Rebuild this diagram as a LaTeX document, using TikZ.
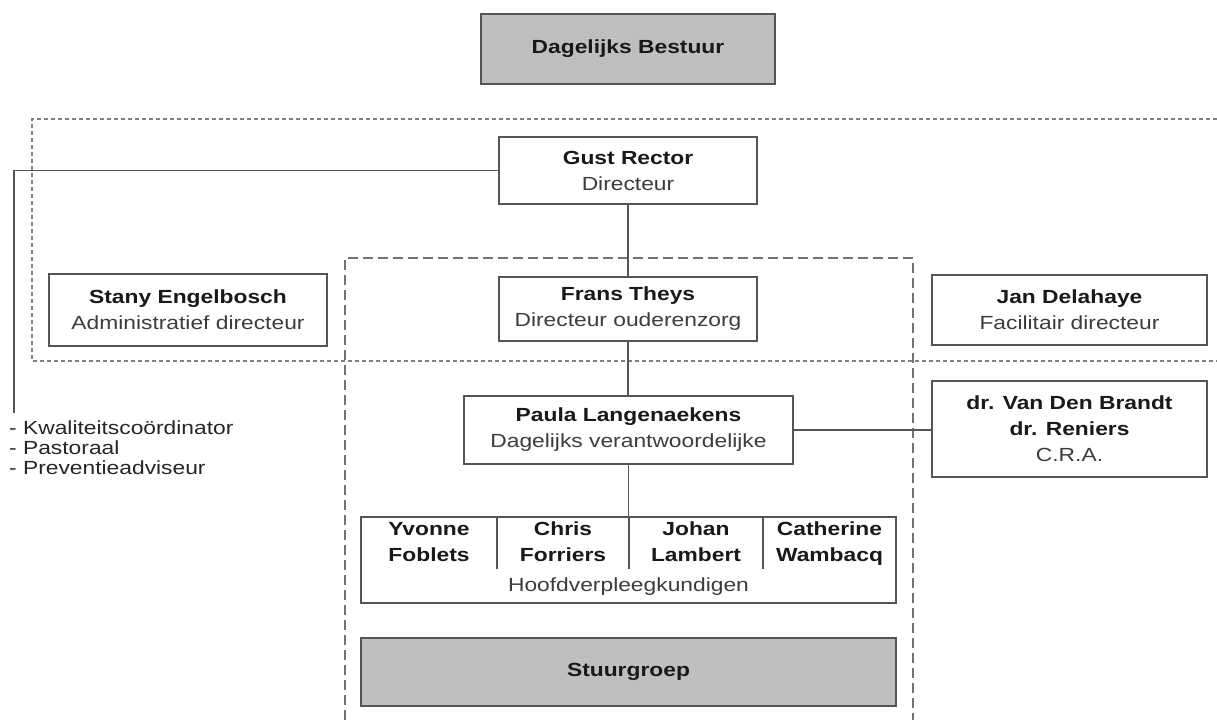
\documentclass[tikz,border=0pt]{standalone}
\usepackage{fontspec}
\setmainfont[FakeStretch=1.2]{Liberation Sans}
\definecolor{rim}{HTML}{555555}
\definecolor{role}{HTML}{3C3C3C}
\begin{document}
\begin{tikzpicture}[x=1pt,y=-1pt,
persbox/.style={draw=rim, line width=1.8pt, fill=white, inner sep=0pt, align=center, text=black!90, font=\fontsize{19}{26}\selectfont},
greybox/.style={persbox, fill=black!25},
namebox/.style={persbox, draw=none, fill=none, text depth=5pt},
link/.style={draw=rim, line width=1.6pt},
staflist/.style={align=left, inner sep=0pt, text=black!85, font=\fontsize{19}{20}\selectfont},
]
    \useasboundingbox (0,0) rectangle (1217,720);

    % frames
    \draw[draw=black!50, line width=1.8pt, dash pattern=on 4pt off 3pt] (1217,119) -| (32,361) -- (1217,361);
    \draw[draw=black!55, line width=1.5pt, dash pattern=on 10pt off 5pt] (345,720) |- (913,258) -- (913,720);

    \node [greybox, minimum width=294, minimum height=70] (bestuur) at (628,49) {\textbf{Dagelijks Bestuur}};

    \node [persbox, minimum width=258, minimum height=67] (rector) at (628,170.5) {\textbf{Gust Rector}\\\textcolor{role}{Directeur}};

    \node [persbox, minimum width=278, minimum height=72] (engelbosch) at (188,310) {\textbf{Stany Engelbosch}\\\textcolor{role}{Administratief directeur}};
    \node [persbox, minimum width=258, minimum height=64] (theys) at (628,309) {\textbf{Frans Theys}\\\textcolor{role}{Directeur ouderenzorg}};
    \node [persbox, minimum width=275, minimum height=70] (delahaye) at (1069.5,310) {\textbf{Jan Delahaye}\\\textcolor{role}{Facilitair directeur}};

    \node [persbox, minimum width=329, minimum height=68] (langenaekens) at (628.5,430) {\textbf{Paula Langenaekens}\\\textcolor{role}{Dagelijks verantwoordelijke}};
    \node [persbox, minimum width=275, minimum height=96] (cra) at (1069.5,429) {\textbf{dr. Van Den Brandt}\\\textbf{dr. Reniers}\\\textcolor{role}{C.R.A.}};

    \node [persbox, minimum width=535, minimum height=86] (hoofd) at (628.5,560) {};
    \node [namebox] (foblets) at (429,544) {\textbf{Yvonne}\\\textbf{Foblets}};
    \node [namebox] (forriers) at (563,544) {\textbf{Chris}\\\textbf{Forriers}};
    \node [namebox] (lambert) at (696,544) {\textbf{Johan}\\\textbf{Lambert}};
    \node [namebox] (wambacq) at (829.5,544) {\textbf{Catherine}\\\textbf{Wambacq}};
    \node [persbox, draw=none, fill=none] (hoofdrol) at (628.5,587) {\textcolor{role}{Hoofdverpleegkundigen}};

    \node [greybox, minimum width=535, minimum height=68] (stuurgroep) at (628.5,672) {\textbf{Stuurgroep}};

    \node [staflist, anchor=north west] (staf) at (9,421) {- Kwaliteitscoördinator\\- Pastoraal\\- Preventieadviseur};
    \coordinate (stafend) at (14,413);

    \draw[link] (rector) -- (theys);
    \draw[link] (theys) -- (theys.south |- langenaekens.north);
    \draw[link] (langenaekens.south) -- (langenaekens.south |- hoofd.north);
    \draw[link] (langenaekens.east) -- (langenaekens.east -| cra.west);
    \draw[link] (rector.west) -| (stafend);
    \foreach \dx in {-131.5,0.5,134.5}
        \draw[link] ([xshift=\dx]hoofd.north) -- ++(0,53);
\end{tikzpicture}
\end{document}
